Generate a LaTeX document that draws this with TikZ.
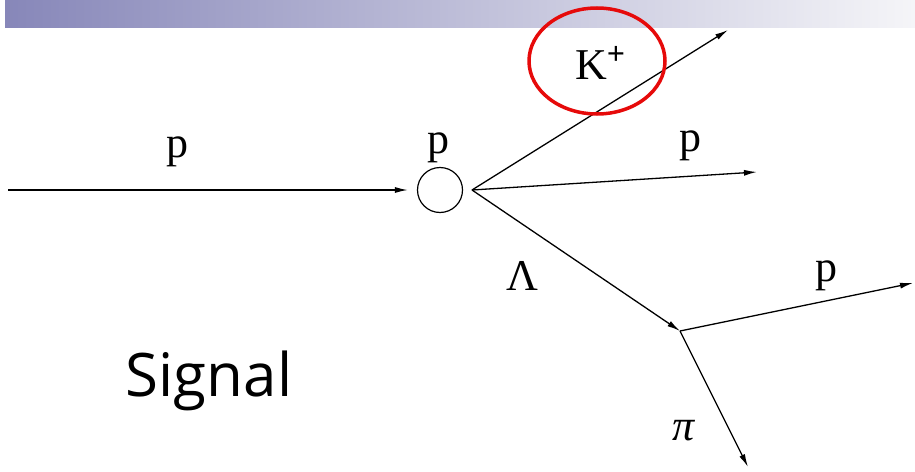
\documentclass[tikz,border=0pt]{standalone}
\usepackage{fontspec}
\setmainfont{Liberation Serif}
\newfontfamily\sigfont{Open Sans}
\usetikzlibrary{arrows.meta}
\definecolor{barleft}{RGB}{135,135,185}
\definecolor{barright}{RGB}{245,245,248}
\definecolor{ringred}{RGB}{230,10,10}
\tikzset{
  track/.style={line width=1.3pt, -{Latex[length=13pt,width=6pt]}},
  lbl/.style={font=\fontsize{44}{44}\selectfont, inner sep=0pt},
}
\begin{document}
\begin{tikzpicture}[x=1pt,y=-1pt]
\useasboundingbox (0,0) rectangle (915,471);
\shade[left color=barleft, right color=barright] (5,0) rectangle (915,27);
% nodes
\coordinate (start) at (8,190);
\node[draw, circle, line width=1.2pt, minimum size=45pt, inner sep=0pt] (tgt) at (440,190) {};
\coordinate (v) at (472,190);
\coordinate (kend) at (728,30);
\coordinate (pend) at (757,172);
\coordinate (lv) at (680,331);
\coordinate (p2end) at (913,283);
\coordinate (piend) at (748,467);
% tracks
\draw[track, shorten >=9pt] (start) -- (tgt.west);
\draw[track] (v) -- (kend);
\draw[track] (v) -- (pend);
\draw[track] (v) -- (lv);
\draw[track] (lv) -- (p2end);
\draw[track] (lv) -- (piend);
% labels
\node[lbl] (lp1) at (177,152) {p};
\node[lbl] (lp2) at (438,148) {p};
\node[lbl] (lk) at (600,63) {K\raisebox{0.36em}{\fontsize{32}{32}\selectfont\bfseries +}};
\node[lbl] (lp3) at (690,146) {p};
\node[lbl] (llam) at (522,276) {Λ};
\node[lbl] (lp4) at (826,276) {p};
\node[lbl] (lpi) at (684,431) {\itshape π};
\node[font=\sigfont\fontsize{60}{60}\selectfont, inner sep=0pt] (sig) at (209,381) {Signal};
% red ring
\draw[ringred, line width=3.5pt] (597,61) ellipse [x radius=68pt, y radius=53pt];
\end{tikzpicture}
\end{document}
